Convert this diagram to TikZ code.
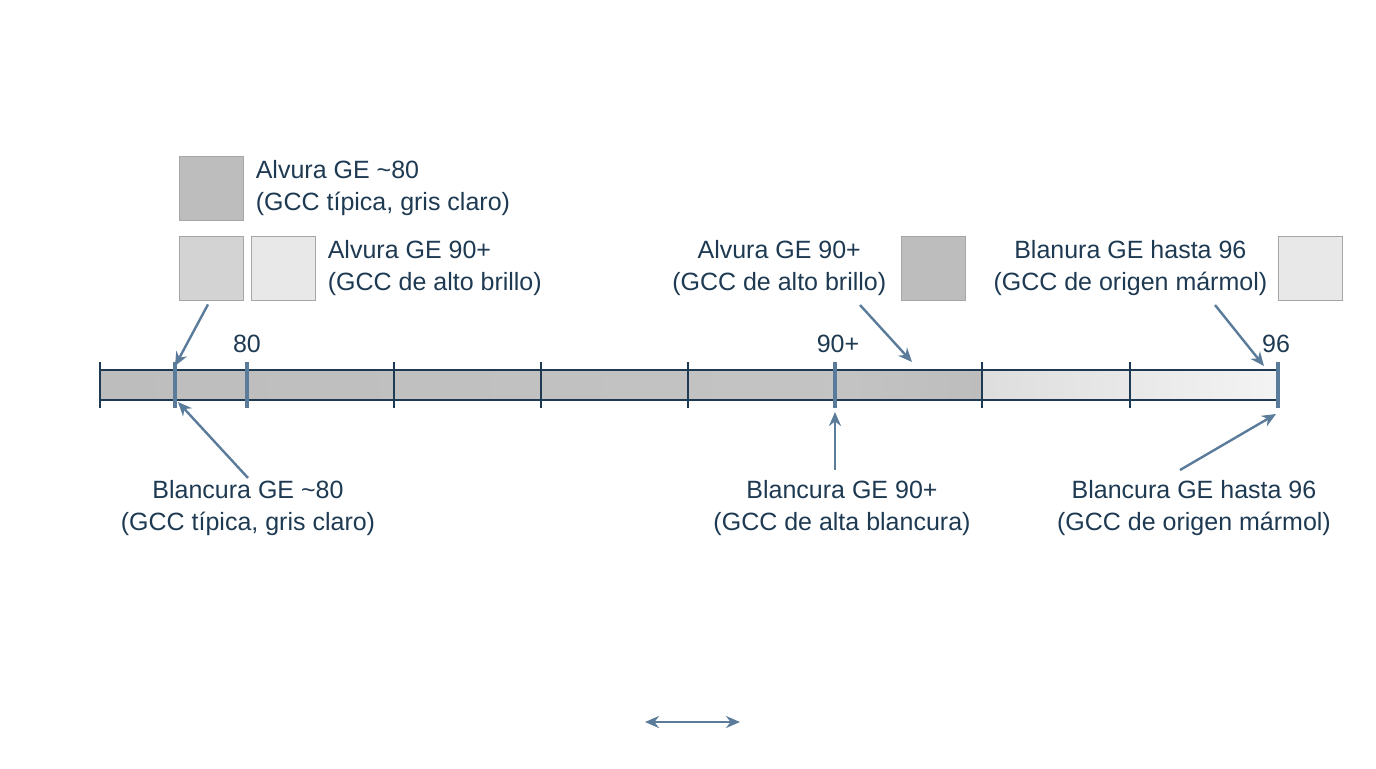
\documentclass[tikz,border=0pt]{standalone}
\usepackage{fontspec}
\setmainfont{Liberation Sans}
\usetikzlibrary{arrows.meta, positioning}
\definecolor{navy}{HTML}{1E3A52}
\definecolor{steel}{HTML}{5A7B9A}
\definecolor{swdark}{HTML}{BDBDBD}
\definecolor{swmid}{HTML}{D3D3D3}
\definecolor{swlight}{HTML}{E8E8E8}
\tikzstyle{swatch} = [rectangle, minimum size=32pt, inner sep=0pt, draw=gray!70]
\tikzstyle{caption} = [align=center, text=navy, font=\fontsize{12.5}{16}\selectfont, inner sep=1pt]
\tikzstyle{pointer} = [-{Stealth[length=7pt,width=6pt]}, draw=steel, line width=1.2pt]
\tikzstyle{tick} = [draw=navy, line width=0.8pt]
\tikzstyle{valmark} = [draw=steel, line width=2.2pt]
\begin{document}
\begin{tikzpicture}[x=0.5pt, y=-0.5pt]
\useasboundingbox (0,0) rectangle (1376,768);
% scale bar
\shade[left color=swdark, right color=swdark!90!white] (100,370) rectangle (835,400);
\shade[left color=swdark!90!white, right color=swdark] (835,370) rectangle (982,400);
\shade[left color=swlight!90!gray, right color=swlight!50!white] (982,370) rectangle (1278,400);
\draw[navy, line width=0.6pt] (100,370) rectangle (1278,400);
\foreach \x in {100,394,541,688,982,1130}
  \draw[tick] (\x,362) -- (\x,408);
\foreach \x in {175,247,835,1278}
  \draw[valmark] (\x,362) -- (\x,408);
\coordinate (m1) at (175,366);
\coordinate (m1b) at (178,402);
\coordinate (m3) at (912,362);
\coordinate (m3b) at (835,412);
\coordinate (m4) at (1264,366);
\coordinate (m4b) at (1276,414);
% values
\node (v80) [caption] at (247,344) {80};
\node (v90) [caption] at (838,344) {90+};
\node (v96) [caption] at (1276,344) {96};
% swatches
\node (s1) [swatch, fill=swdark] at (211,188) {};
\node (s2) [swatch, fill=swmid] at (211,268) {};
\node (s3) [swatch, fill=swlight] at (283,268) {};
\node (s4) [swatch, fill=swdark] at (933,268) {};
\node (s5) [swatch, fill=swlight] at (1310,268) {};
\node (t1) [caption, align=left, right=5pt of s1] {Alvura GE \textasciitilde80\\(GCC típica, gris claro)};
\node (t2) [caption, align=left, right=5pt of s3] {Alvura GE 90+\\(GCC de alto brillo)};
\node (t3) [caption, left=6pt of s4] {Alvura GE 90+\\(GCC de alto brillo)};
\node (t4) [caption, left=4pt of s5] {Blanura GE hasta 96\\(GCC de origen mármol)};
% bottom labels
\node (b1) [caption] at (248,508) {Blancura GE \textasciitilde80\\(GCC típica, gris claro)};
\node (b2) [caption] at (842,508) {Blancura GE 90+\\(GCC de alta blancura)};
\node (b3) [caption] at (1194,508) {Blancura GE hasta 96\\(GCC de origen mármol)};
% pointers
\draw[pointer] (s2.south) ++(-3,4) -- (m1);
\draw[pointer] (860,305) -- (m3);
\draw[pointer] (1215,305) -- (m4);
\draw[pointer] (b1.north) -- (m1b);
\draw[pointer] (835,470) -- (m3b);
\draw[pointer] (1180,470) -- (m4b);
\coordinate (la) at (645,722);
\coordinate (lb) at (740,722);
\draw[{Stealth[length=7pt,width=6pt]}-{Stealth[length=7pt,width=6pt]}, draw=steel, line width=1.2pt] (la) -- (lb);
\end{tikzpicture}
\end{document}
